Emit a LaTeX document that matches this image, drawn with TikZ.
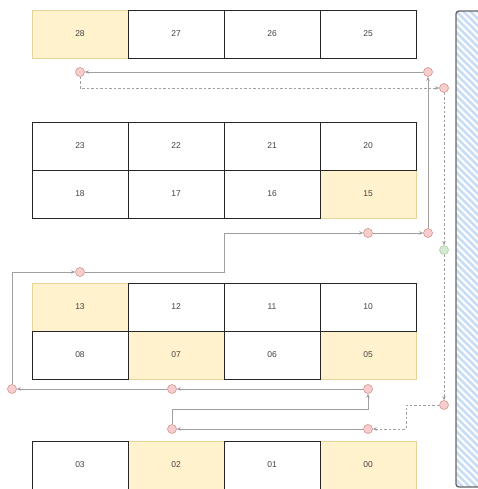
\documentclass[tikz,border=0pt]{standalone}
\usepackage{fontspec}
\setmainfont{Liberation Sans}
\usetikzlibrary{arrows.meta}
\definecolor{yfill}{HTML}{FFF2CC}
\definecolor{yline}{HTML}{D6B656}
\definecolor{pfill}{HTML}{F8CECC}
\definecolor{pline}{HTML}{B85450}
\definecolor{gfill}{HTML}{D5E8D4}
\definecolor{gline}{HTML}{82B366}
\definecolor{conn}{HTML}{A0A0A0}
\definecolor{hatch}{HTML}{C9DDF5}
\definecolor{txt}{HTML}{444444}
\tikzset{
  cell/.style={draw=black!85, line width=0.8pt, fill=white, minimum width=96pt, minimum height=48pt, inner sep=0pt, text=txt, font=\fontsize{8.5}{10}\selectfont},
  ycell/.style={cell, draw=yline!60, fill=yfill},
  pt/.style={circle, draw=pline!70, fill=pfill, minimum size=9pt, inner sep=0pt, line width=0.5pt},
  gpt/.style={pt, draw=gline!70, fill=gfill},
  ln/.style={draw=conn, line width=0.8pt, -{Stealth[length=4pt,width=3.5pt]}},
  dln/.style={ln, dashed, dash pattern=on 2.5pt off 2pt, line width=0.6pt},
}
\begin{document}
\begin{tikzpicture}[x=1pt,y=-1pt]
\useasboundingbox (0,0) rectangle (477,489);
% right panel
\begin{scope}
\clip[rounded corners=3pt] (456,11) rectangle (490,487);
\fill[white] (456,11) rectangle (490,487);
\foreach \i in {-40,-33,...,500} {
  \draw[hatch, line width=2.6pt] (440,\i) -- (490,\i+50);
}
\end{scope}
\draw[black!60, line width=1.4pt, rounded corners=3pt] (490,487) -- (456,487) -- (456,11) -- (490,11);
% yellow cells first
\node[ycell] (n28) at (80,34) {28};
\node[ycell] (n15) at (368,194) {15};
\node[ycell] (n13) at (80,307) {13};
\node[ycell] (n07) at (176,355) {07};
\node[ycell] (n05) at (368,355) {05};
\node[ycell] (n02) at (176,465) {02};
\node[ycell] (n00) at (368,465) {00};
% white cells
\node[cell] (n27) at (176,34) {27};
\node[cell] (n26) at (272,34) {26};
\node[cell] (n25) at (368,34) {25};
\node[cell] (n23) at (80,146) {23};
\node[cell] (n22) at (176,146) {22};
\node[cell] (n21) at (272,146) {21};
\node[cell] (n20) at (368,146) {20};
\node[cell] (n18) at (80,194) {18};
\node[cell] (n17) at (176,194) {17};
\node[cell] (n16) at (272,194) {16};
\node[cell] (n12) at (176,307) {12};
\node[cell] (n11) at (272,307) {11};
\node[cell] (n10) at (368,307) {10};
\node[cell] (n08) at (80,355) {08};
\node[cell] (n06) at (272,355) {06};
\node[cell] (n03) at (80,465) {03};
\node[cell] (n01) at (272,465) {01};
% points
\node[pt] (c1) at (80,72) {};
\node[pt] (c2) at (428,72) {};
\node[pt] (c3) at (444,88) {};
\node[gpt] (g) at (444,250) {};
\node[pt] (c4) at (368,233) {};
\node[pt] (c5) at (428,233) {};
\node[pt] (c6) at (80,272) {};
\node[pt] (c7) at (12,389) {};
\node[pt] (c8) at (172,389) {};
\node[pt] (c9) at (368,389) {};
\node[pt] (c10) at (444,405) {};
\node[pt] (c11) at (172,429) {};
\node[pt] (c12) at (368,429) {};
% solid connectors
\draw[ln] (c2) -- (c1);
\draw[ln] (c5) -- (c2);
\draw[ln] (c4) -- (c5);
\draw[ln] (c6) -- (224,272) -- (224,233) -- (c4);
\draw[ln] (c7) -- (12,272) -- (c6);
\draw[ln] (c8) -- (c7);
\draw[ln] (c9) -- (c8);
\draw[ln] (c11) -- (172,409) -- (368,409) -- (c9);
\draw[ln] (c12) -- (c11);
% dashed connectors
\draw[dln] (c1) -- (80,88) -- (c3);
\draw[dln] (c3) -- (g);
\draw[dln] (g) -- (c10);
\draw[dln] (c10) -- (406,405) -- (406,429) -- (c12);
\end{tikzpicture}
\end{document}
